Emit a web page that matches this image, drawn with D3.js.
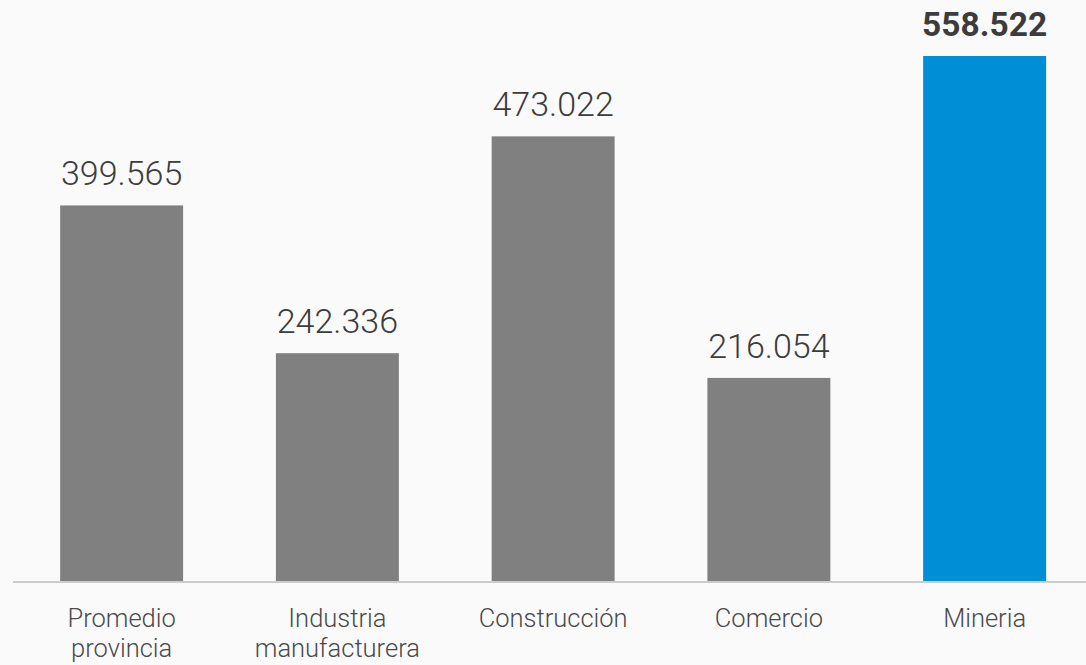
<!DOCTYPE html>
<html>
<head>
<meta charset="utf-8">
<script src="https://cdn.jsdelivr.net/npm/d3@7"></script>
<style>
  body { margin: 0; background: #fafafa; }
  text { font-family: Roboto, "Noto Sans", sans-serif; }
</style>
</head>
<body>
<div id="plot"></div>
<script>
// categories and values
const categories = ["Promedio provincia", "Industria manufacturera", "Construcción", "Comercio", "Mineria"];
const labelLines = [["Promedio", "provincia"], ["Industria", "manufacturera"], ["Construcción"], ["Comercio"], ["Mineria"]];
const values = [399565, 242336, 473022, 216054, 558522];
const valueLabels = ["399.565", "242.336", "473.022", "216.054", "558.522"];
const highlight = "Mineria";

const width = 1086, height = 665;
const baseY = 581;

const svg = d3.select("div#plot").append("svg")
    .attr("width", width)
    .attr("height", height);

svg.append("rect")
    .attr("width", width)
    .attr("height", height)
    .attr("fill", "#fafafa");

const x = d3.scaleBand()
    .domain(categories)
    .range([13.75, 1092.5])
    .paddingInner(0.43)
    .paddingOuter(0.215);

const y = d3.scaleLinear()
    .domain([0, 558522])
    .range([baseY, 56]);

// bars
svg.selectAll(".bar")
  .data(categories)
  .enter().append("rect")
    .attr("class", "bar")
    .attr("x", d => x(d))
    .attr("width", x.bandwidth())
    .attr("y", (d, i) => y(values[i]))
    .attr("height", (d, i) => baseY - y(values[i]))
    .attr("fill", d => d === highlight ? "#008ed6" : "#808080");

// baseline
svg.append("line")
    .attr("x1", 13)
    .attr("x2", width)
    .attr("y1", baseY + 1)
    .attr("y2", baseY + 1)
    .attr("stroke", "#cccccc")
    .attr("stroke-width", 2);

// value labels
svg.selectAll(".val")
  .data(categories)
  .enter().append("text")
    .attr("class", "val")
    .attr("x", d => x(d) + x.bandwidth() / 2)
    .attr("y", (d, i) => y(values[i]) - 20)
    .attr("text-anchor", "middle")
    .attr("font-size", d => d === highlight ? 33.5 : 34)
    .attr("font-weight", d => d === highlight ? 700 : 300)
    .attr("fill", "#3c3c3c")
    .text((d, i) => valueLabels[i]);

// category labels
const cat = svg.selectAll(".cat")
  .data(categories)
  .enter().append("text")
    .attr("class", "cat")
    .attr("x", d => x(d) + x.bandwidth() / 2)
    .attr("y", 627)
    .attr("text-anchor", "middle")
    .attr("font-size", 25.5)
    .attr("font-weight", 300)
    .attr("fill", "#4a4a4a");

cat.selectAll("tspan")
  .data((d, i) => labelLines[i])
  .enter().append("tspan")
    .attr("x", function() { return this.parentNode.getAttribute("x"); })
    .attr("dy", (d, i) => i === 0 ? 0 : 30)
    .text(d => d);
</script>
</body>
</html>
